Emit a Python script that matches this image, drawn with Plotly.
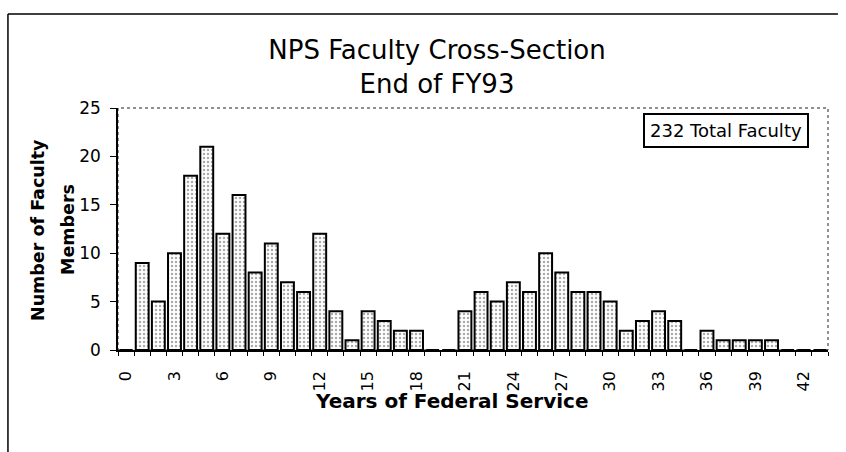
import plotly.graph_objects as go

# ---- data ----
years = list(range(0, 44))
members = [0, 9, 5, 10, 18, 21, 12, 16, 8, 11,
           7, 6, 12, 4, 1, 4, 3, 2, 2, 0,
           0, 4, 6, 5, 7, 6, 10, 8, 6, 6,
           5, 2, 3, 4, 3, 0, 2, 1, 1, 1,
           1, 0, 0, 0]
tick_years = list(range(0, 43, 3))
y_ticks = [0, 5, 10, 15, 20, 25]
title_text = "NPS Faculty Cross-Section<br>End of FY93"
x_title = "Years of Federal Service"
y_title_1 = "Number of Faculty"
y_title_2 = "Members"
note_text = "232 Total Faculty"

FONT = "DejaVu Sans"

fig = go.Figure()
fig.add_trace(go.Bar(
    x=years, y=members,
    marker=dict(color="white",
                line=dict(color="black", width=2),
                pattern=dict(shape=".", fgcolor="#555555", bgcolor="white",
                             size=4, solidity=0.3)),
    hoverinfo="x+y", showlegend=False,
))

fig.update_layout(
    width=846, height=452,
    margin=dict(l=118, r=18, t=108, b=102, autoexpand=False),
    paper_bgcolor="white", plot_bgcolor="white",
    bargap=0.2,
    font=dict(family=FONT, color="black", size=17),
    title=dict(text=title_text, x=437/846, xref="container", xanchor="center",
               y=1-59/452, yref="container", yanchor="middle",
               font=dict(family=FONT, size=26, color="black")),
    xaxis=dict(type="linear", range=[-0.5, 43.5],
               tickmode="array", tickvals=tick_years,
               ticktext=[str(v) for v in tick_years],
               tickangle=-90, ticks="", ticklabelstandoff=13,
               tickfont=dict(family=FONT, size=16, color="black"),
               showline=True, linecolor="black", linewidth=1.5,
               showgrid=False, zeroline=False,
               minor=dict(tickmode="linear", tick0=0.5, dtick=1,
                          ticks="outside", ticklen=4, tickcolor="black",
                          tickwidth=1, showgrid=False)),
    yaxis=dict(range=[0, 25], tickmode="array", tickvals=y_ticks,
               ticks="outside", ticklen=6, tickcolor="black", tickwidth=1,
               ticklabelstandoff=6,
               tickfont=dict(family=FONT, size=17, color="black"),
               showline=True, linecolor="black", linewidth=1.5,
               showgrid=False, zeroline=False),
)

# dotted plot-area frame (top / right)
fig.add_shape(type="rect", xref="paper", yref="paper", x0=0, x1=1, y0=0, y1=1,
              line=dict(color="#222222", width=1, dash="dot"), layer="below")

# outer chart frame (top and left edges)
fig.add_shape(type="line", xref="paper", yref="paper",
              x0=-0.155, x1=1.014, y0=1.388, y1=1.388,
              line=dict(color="black", width=1.5))
fig.add_shape(type="line", xref="paper", yref="paper",
              x0=-0.155, x1=-0.155, y0=1.388, y1=-0.45,
              line=dict(color="black", width=1.5))

# axis titles
fig.add_annotation(text="<b>" + x_title + "</b>", xref="paper", yref="paper",
                   x=(451-118)/710, y=(350-401)/242, xanchor="center", yanchor="middle",
                   showarrow=False, font=dict(family=FONT, size=20, color="black"))
fig.add_annotation(text="<b>" + y_title_1 + "</b>", xref="paper", yref="paper",
                   x=(38-118)/710, y=(350-230)/242, xanchor="center", yanchor="middle",
                   textangle=-90, showarrow=False,
                   font=dict(family=FONT, size=17.5, color="black"))
fig.add_annotation(text="<b>" + y_title_2 + "</b>", xref="paper", yref="paper",
                   x=(68-118)/710, y=(350-230)/242, xanchor="center", yanchor="middle",
                   textangle=-90, showarrow=False,
                   font=dict(family=FONT, size=17.5, color="black"))

# total-faculty box
fig.add_annotation(text=note_text, xref="paper", yref="paper",
                   x=(809-118)/710, y=(350-113)/242, xanchor="right", yanchor="top",
                   showarrow=False, bgcolor="white", bordercolor="black",
                   borderwidth=2, borderpad=5,
                   font=dict(family=FONT, size=18, color="black"))

fig.write_html("out.html", config={"displayModeBar": False},
               post_script="document.body.style.margin='0px';document.body.style.overflow='hidden';")
